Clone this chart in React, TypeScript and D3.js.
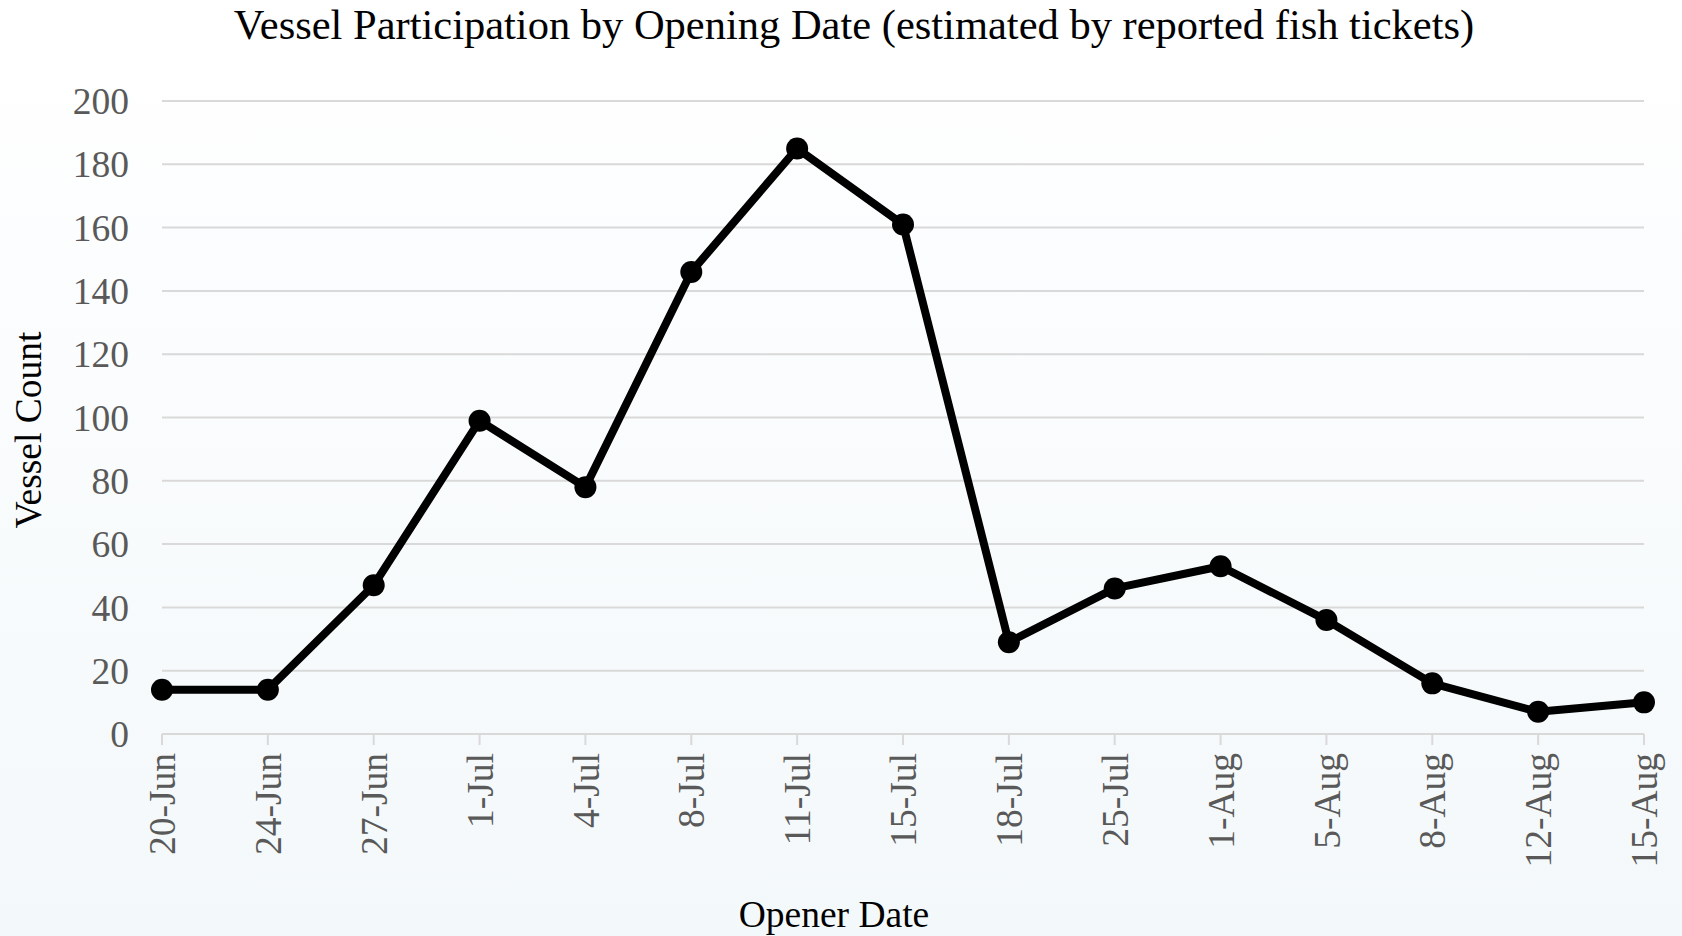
import React from "react";
import * as d3 from "d3";

const openerDates = [
  "20-Jun", "24-Jun", "27-Jun", "1-Jul", "4-Jul", "8-Jul", "11-Jul", "15-Jul",
  "18-Jul", "25-Jul", "1-Aug", "5-Aug", "8-Aug", "12-Aug", "15-Aug",
];
const vesselCounts = [14, 14, 47, 99, 78, 146, 185, 161, 29, 46, 53, 36, 16, 7, 10];
const yTicks = [0, 20, 40, 60, 80, 100, 120, 140, 160, 180, 200];

const W = 1682;
const H = 936;
const FONT = "'Liberation Serif', 'Times New Roman', serif";

const App = () => {
  const x = d3.scalePoint<string>().domain(openerDates).range([162, 1644]);
  const y = d3.scaleLinear().domain([0, 200]).range([734, 101]);

  const line = d3
    .line<number>()
    .x((d, i) => x(openerDates[i]) as number)
    .y((d) => y(d));

  return (
    <svg
      width={W}
      height={H}
      style={{ position: "absolute", left: 0, top: 0, display: "block" }}
    >
      <defs>
        <linearGradient id="bg" x1="0" y1="0" x2="0" y2="1">
          <stop offset="0%" stopColor="#ffffff" />
          <stop offset="100%" stopColor="#f3f8fa" />
        </linearGradient>
      </defs>
      <rect width={W} height={H} fill="url(#bg)" />

      <text
        x={854}
        y={39}
        textAnchor="middle"
        fontFamily={FONT}
        fontSize={42.5}
        fill="#000"
      >
        Vessel Participation by Opening Date (estimated by reported fish tickets)
      </text>

      {/* gridlines + y labels */}
      {yTicks.map((t) => (
        <g key={t}>
          <line
            x1={162}
            x2={1644}
            y1={y(t)}
            y2={y(t)}
            stroke="#d9d9d9"
            strokeWidth={2}
          />
          <text
            x={129}
            y={y(t)}
            dy="0.35em"
            textAnchor="end"
            fontFamily={FONT}
            fontSize={37.5}
            fill="#595959"
          >
            {t}
          </text>
        </g>
      ))}

      {/* x ticks + labels */}
      {openerDates.map((d) => (
        <g key={d} transform={`translate(${x(d)},0)`}>
          <line y1={y(0)} y2={y(0) + 11} stroke="#d9d9d9" strokeWidth={2} />
          <text
            transform={`translate(0,753) rotate(-90)`}
            dy="0.35em"
            textAnchor="end"
            fontFamily={FONT}
            fontSize={37.5}
            fill="#595959"
          >
            {d}
          </text>
        </g>
      ))}

      <path
        d={line(vesselCounts) ?? ""}
        fill="none"
        stroke="#000"
        strokeWidth={8}
        strokeLinejoin="round"
      />
      {vesselCounts.map((v, i) => (
        <circle key={i} cx={x(openerDates[i])} cy={y(v)} r={11} fill="#000" />
      ))}

      <text
        transform="translate(41,430) rotate(-90)"
        textAnchor="middle"
        fontFamily={FONT}
        fontSize={37.5}
        fill="#000"
      >
        Vessel Count
      </text>
      <text
        x={834}
        y={927}
        textAnchor="middle"
        fontFamily={FONT}
        fontSize={37.5}
        fill="#000"
      >
        Opener Date
      </text>
    </svg>
  );
};

export default App;
